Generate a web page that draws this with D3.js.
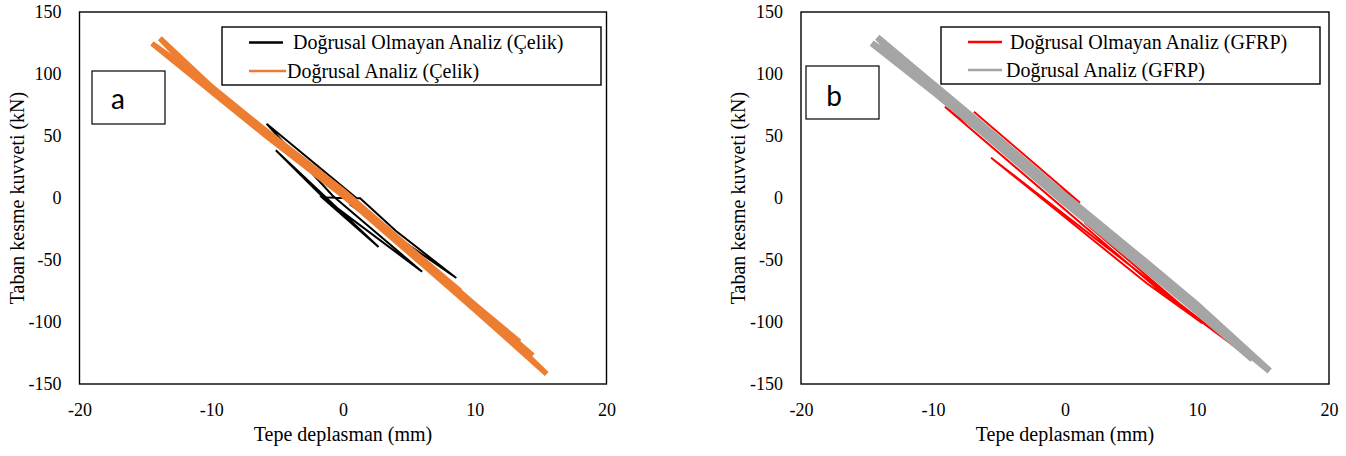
<!DOCTYPE html>
<html><head><meta charset="utf-8">
<script src="https://cdn.jsdelivr.net/npm/d3@7"></script>
<style>body{margin:0;background:#fff} svg{display:block}</style>
</head><body>
<svg id="c" width="1346" height="456"></svg>
<script>
// ---- data ----
const xTickValues = [-20, -10, 0, 10, 20];
const xTickLabels = ["-20", "-10", "0", "10", "20"];
const yTickValues = [150, 100, 50, 0, -50, -100, -150];
const yTickLabels = ["150", "100", "50", "0", "-50", "-100", "-150"];
const xTitle = "Tepe deplasman (mm)";
const yTitle = "Taban kesme kuvveti (kN)";

// (a) Çelik — turning points
const steelNonlinX = [0, -1.6, 2.7, -5.1, -1.4, 6.0, -0.8, -5.8, 1.04, 1.3, 4, 8.6, 0.5];
const steelNonlinY = [0, 0.6, -39.5, 38.5, -0.5, -59.4, 2, 59.8, -0.2, -0.2, -26.5, -64.5, -5];
const steelLinX = [0, 4.2, 0, -6.5, 0, 6, 8.9, 6, 0, -6, -10.2, -6, 0, 6, 10, 13.4,
  10, 6, 0, -6, -10, -14.5, -10, -6, 0, 6, 10, 15.46, 10, 6, 0, -6, -10, -13.9,
  -10, -6, 0, 6, 10, 14.4, 10, 6, 0, -6, -10, -12, -6, 0, 6, 10.2, 6, 0, -6, -8, 0, 6, 0, -3, 0];
const steelLinY = [4, -34.6, 2, 57.6, 6, -49, -75, -53, 2, 51.5, 89.5, 55.5, 6, -49, -86, -116,
  -90, -53, 2, 51.5, 86, 124.7, 90, 55.5, 6, -49, -86, -141.9, -90, -53, 2, 51.5, 86, 128.8,
  90, 55.5, 6, -49, -86, -127, -90, -53, 2, 51.5, 86, 104, 55.5, 6, -49, -89, -53, 2, 51.5, 71, 6, -51, 2, 28.8, 4];

// (b) GFRP
const gfrpNonlinX = [-6.9, 1.14, -9.1, 7.2, 13.2, -5.6, 6.19, 10.4, 1.5];
const gfrpNonlinY = [69.6, -3.8, 73.6, -75, -122.6, 32.5, -68.8, -101, -20];
const gfrpLinX = [0, 4, 0, -6.8, 0, 6, 8.9, 6, 0, -6, -10.5, -6, 0, 6, 10, 13.7,
  10, 6, 0, -6, -10, -14.64, -10, -6, 0, 6, 10, 15.5, 10, 6, 0, -6, -10, -14.22,
  -10, -6, 0, 6, 10, 14.2, 10, 6, 0, -6, -10, -12, -6, 0, 6, 10.4, 6, 0, -6, -8.2, 0, 6.2, 0, -3, 0];
const gfrpLinY = [-1, -37.6, -4, 62, 2, -50.5, -77, -56.5, -4, 50.5, 93.5, 56.5, 2, -50.5, -86, -122.6,
  -91.5, -56.5, -4, 50.5, 86, 124.8, 92, 56.5, 2, -50.5, -86, -139.5, -91.5, -56.5, -4, 50.5, 86, 129.6,
  92, 56.5, 2, -50.5, -86, -130, -91.5, -56.5, -4, 50.5, 86, 107, 56.5, 2, -50.5, -91, -56.5, -4, 50.5, 73, 2, -55, -4, 26.5, -1];

const legendSteel = ["Doğrusal Olmayan Analiz (Çelik)", "Doğrusal Analiz (Çelik)"];
const legendGfrp = ["Doğrusal Olmayan Analiz (GFRP)", "Doğrusal Analiz (GFRP)"];

// ---- drawing ----
const svg = d3.select("#c");
const serif = "'Liberation Serif','Times New Roman',serif";

const panels = [
  { letter: "a", left: 79.5, right: 606.5, top: 12, bottom: 384,
    series: [
      { x: steelNonlinX, y: steelNonlinY, color: "#000000", w: 2 },
      { x: steelLinX, y: steelLinY, color: "#ED7D31", w: 5.5 }
    ],
    legend: legendSteel, legendColors: ["#000000", "#ED7D31"],
    legBox: [222, 27, 379, 58], legLine: [[249, 283, 42.5, 293, 49], [249, 286, 71, 287, 77.5]],
    labBox: [92, 71, 73, 53], labX: 118, labY: 109, yTitleX: 23.5 },
  { letter: "b", left: 801, right: 1329, top: 12, bottom: 384,
    series: [
      { x: gfrpNonlinX, y: gfrpNonlinY, color: "#FF0000", w: 2 },
      { x: gfrpLinX, y: gfrpLinY, color: "#A5A5A5", w: 6.5 }
    ],
    legend: legendGfrp, legendColors: ["#FF0000", "#A5A5A5"],
    legBox: [941, 27, 379, 57], legLine: [[968, 1002, 42, 1010, 48.5], [968, 1002, 70, 1006, 76.5]],
    labBox: [806, 66, 73, 53], labX: 834, labY: 106, yTitleX: 745 }
];

panels.forEach(p => {
  const x = d3.scaleLinear().domain([-20, 20]).range([p.left, p.right]);
  const y = d3.scaleLinear().domain([-150, 150]).range([p.bottom, p.top]);
  const g = svg.append("g");

  p.series.forEach(s => {
    const pts = s.x.map((v, i) => [v, s.y[i]]);
    g.append("path")
      .attr("d", d3.line().x(d => x(d[0])).y(d => y(d[1]))(pts))
      .attr("fill", "none").attr("stroke", s.color)
      .attr("stroke-width", s.w).attr("stroke-linejoin", "miter").attr("stroke-miterlimit", 4);
  });

  g.append("rect").attr("x", p.left).attr("y", p.top)
    .attr("width", p.right - p.left).attr("height", p.bottom - p.top)
    .attr("fill", "none").attr("stroke", "#000").attr("stroke-width", 1.4);

  const ax = g.append("g").attr("transform", `translate(0,${p.bottom})`)
    .call(d3.axisBottom(x).tickValues(xTickValues).tickSize(0).tickPadding(19)
      .tickFormat((d, i) => xTickLabels[i]));
  const ay = g.append("g").attr("transform", `translate(${p.left},0)`)
    .call(d3.axisLeft(y).tickValues(yTickValues).tickSize(0).tickPadding(18)
      .tickFormat((d, i) => yTickLabels[i]));
  [ax, ay].forEach(a => {
    a.select(".domain").remove();
    a.selectAll("text").attr("font-family", serif).attr("font-size", 18).attr("fill", "#000");
  });

  g.append("text").attr("x", (p.left + p.right) / 2).attr("y", 441)
    .attr("text-anchor", "middle").attr("font-family", serif).attr("font-size", 20)
    .text(xTitle);
  g.append("text").attr("transform", `translate(${p.yTitleX},198) rotate(-90)`)
    .attr("text-anchor", "middle").attr("font-family", serif).attr("font-size", 20)
    .text(yTitle);

  g.append("rect").attr("x", p.legBox[0]).attr("y", p.legBox[1])
    .attr("width", p.legBox[2]).attr("height", p.legBox[3])
    .attr("fill", "#fff").attr("stroke", "#000").attr("stroke-width", 1.4);
  p.legend.forEach((t, i) => {
    const L = p.legLine[i];
    g.append("line").attr("x1", L[0]).attr("x2", L[1]).attr("y1", L[2]).attr("y2", L[2])
      .attr("stroke", p.legendColors[i]).attr("stroke-width", 2.6);
    g.append("text").attr("x", L[3]).attr("y", L[4]).attr("font-family", serif)
      .attr("font-size", 20).text(t);
  });

  g.append("rect").attr("x", p.labBox[0]).attr("y", p.labBox[1])
    .attr("width", p.labBox[2]).attr("height", p.labBox[3])
    .attr("fill", "#fff").attr("stroke", "#000").attr("stroke-width", 1.2);
  g.append("text").attr("x", p.labX).attr("y", p.labY).attr("text-anchor", "middle")
    .attr("font-family", "Lato, 'Open Sans', sans-serif").attr("font-size", 28).text(p.letter);
});
</script>
</body></html>
